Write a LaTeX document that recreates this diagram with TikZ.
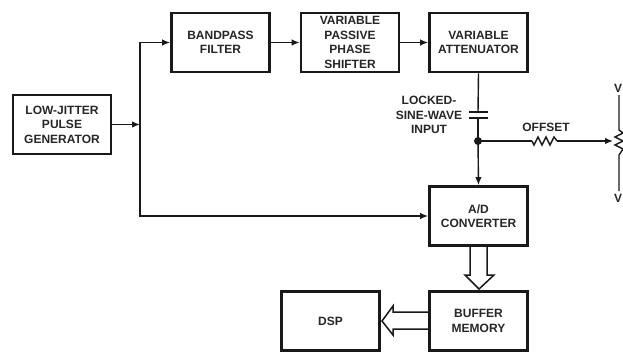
\documentclass[tikz,border=0pt]{standalone}
\usepackage{fontspec}
\setmainfont{Liberation Sans}
\usetikzlibrary{arrows.meta}
\tikzset{
  x=1pt,y=-1pt,
  blockbox/.style={draw=black!90,line width=2.8pt,minimum width=98pt,minimum height=59pt,align=center,inner sep=0pt,font=\bfseries\fontsize{12}{14.5}\selectfont,text=black!85},
  lab/.style={font=\bfseries\fontsize{12}{14.5}\selectfont,align=center,text=black!85,inner sep=0pt},
  wire/.style={line width=1.4pt,draw=black!90},
  sig/.style={wire,-{Latex[length=8pt,width=6.5pt]}},
  bus/.style={line width=1.5pt,draw=black!90},
}
\begin{document}
\begin{tikzpicture}
\useasboundingbox (0,0) rectangle (623,353);
\node[blockbox] (gen) at (62,124.5) {LOW-JITTER\\PULSE\\GENERATOR};
\node[blockbox] (bp) at (220.5,42.5) {BANDPASS\\FILTER};
\node[blockbox] (ps) at (350,42.5) {VARIABLE\\PASSIVE\\PHASE\\SHIFTER};
\node[blockbox] (att) at (478.5,42.5) {VARIABLE\\ATTENUATOR};
\node[blockbox] (adc) at (478.5,216) {A/D\\CONVERTER};
\node[blockbox] (buf) at (478.5,321) {BUFFER\\MEMORY};
\node[blockbox] (dsp) at (330.5,321) {DSP};
\coordinate (split) at (140,124.5);
\coordinate (top) at (140,42.5);
\coordinate (low) at (140,216);
\draw[sig] (gen.east) -- (split);
\draw[sig] (split) -- (top) -- (bp.west);
\draw[sig] (split) -- (low) -- (adc.west);
\draw[sig] (bp.east) -- (ps.west);
\draw[sig] (ps.east) -- (att.west);
% capacitor
\coordinate (capT) at (478,112);
\coordinate (capB) at (478,118);
\coordinate (jn) at (478,141);
\draw[wire] (att.south) -- (capT);
\draw[wire,line width=1.7pt] (469,112) -- (488,112);
\draw[wire,line width=1.7pt] (469,118) -- (488,118);
\draw[wire] (capB) -- (jn);
\fill[black!90] (jn) circle (4pt);
\draw[sig] (jn) -- (adc.north);
\node[lab] (lk) at (429,115) {LOCKED-\\SINE-WAVE\\INPUT};
\node[lab] (off) at (546,127) {OFFSET};
% offset resistor and pot
\coordinate (rA) at (532,141);
\coordinate (rB) at (557,141);
\coordinate (wip) at (613,141);
\draw[wire] (jn) -- (rA);
\draw[wire] (rA) -- (534,145) -- (538,137) -- (542,145) -- (546,137) -- (550,145) -- (554,137) -- (rB);
\draw[sig] (rB) -- (wip);
\node[lab] (vt) at (618,88) {V};
\node[lab] (vb) at (618,198) {V};
\draw[wire] (619,95) -- (619,130) -- (623,133) -- (615,137) -- (623,141) -- (615,145) -- (623,149) -- (619,155) -- (619,191);
% bus arrows
\draw[bus] (470,247) -- (470,275) -- (465,275) -- (479,289) -- (494,275) -- (487,275) -- (487,247);
\draw[bus] (428,312) -- (393,312) -- (393,306) -- (382,321) -- (393,335) -- (393,329) -- (428,329);
\end{tikzpicture}
\end{document}
